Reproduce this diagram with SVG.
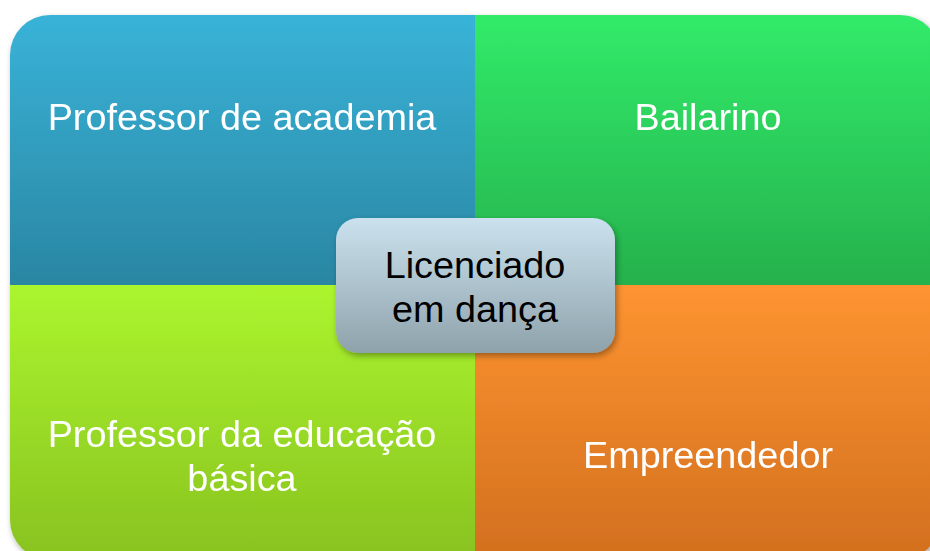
<svg xmlns="http://www.w3.org/2000/svg" width="930" height="551" viewBox="0 0 930 551">
<defs>
<linearGradient id="gBlue" x1="0" y1="0" x2="0" y2="1"><stop offset="0" stop-color="#39b3d8"/><stop offset="1" stop-color="#2a86a2"/></linearGradient>
<linearGradient id="gGreen" x1="0" y1="0" x2="0" y2="1"><stop offset="0" stop-color="#31eb69"/><stop offset="1" stop-color="#26b14d"/></linearGradient>
<linearGradient id="gLime" x1="0" y1="0" x2="0" y2="1"><stop offset="0" stop-color="#abf52f"/><stop offset="1" stop-color="#88c21f"/></linearGradient>
<linearGradient id="gOrange" x1="0" y1="0" x2="0" y2="1"><stop offset="0" stop-color="#fe9431"/><stop offset="1" stop-color="#d26f1e"/></linearGradient>
<linearGradient id="gCenter" x1="0" y1="0" x2="0" y2="1"><stop offset="0" stop-color="#cbe2ee"/><stop offset="1" stop-color="#8ea2ab"/></linearGradient>
<clipPath id="outer"><rect x="10" y="15" width="930" height="545" rx="40" ry="40"/></clipPath>
<filter id="sh" x="-10%" y="-10%" width="130%" height="130%"><feDropShadow dx="2" dy="3" stdDeviation="3" flood-color="#000" flood-opacity="0.35"/></filter>
</defs>
<style>
.t{font-family:"Liberation Sans",Arial,sans-serif;font-size:37.8px;fill:#ffffff;text-anchor:middle}
.c{font-family:"Liberation Sans",Arial,sans-serif;font-size:37.8px;fill:#000000;text-anchor:middle}
</style>
<g filter="url(#sh)">
<g clip-path="url(#outer)">
<g id="q1"><rect x="10" y="15" width="465" height="270" fill="url(#gBlue)"/><text class="t" x="242" y="130">Professor de academia</text></g>
<g id="q2"><rect x="475" y="15" width="465" height="270" fill="url(#gGreen)"/><text class="t" x="708" y="130">Bailarino</text></g>
<g id="q3"><rect x="10" y="285" width="465" height="275" fill="url(#gLime)"/><text class="t" x="242" y="447">Professor da educação</text><text class="t" x="242" y="491">básica</text></g>
<g id="q4"><rect x="475" y="285" width="465" height="275" fill="url(#gOrange)"/><text class="t" x="708" y="468">Empreendedor</text></g>
</g>
</g>
<g id="connectors"/>
<g id="center"><rect x="336" y="218" width="279" height="135" rx="22" ry="22" fill="url(#gCenter)" filter="url(#sh)"/><text class="c" x="475" y="278">Licenciado</text><text class="c" x="475" y="322">em dança</text></g>
</svg>
